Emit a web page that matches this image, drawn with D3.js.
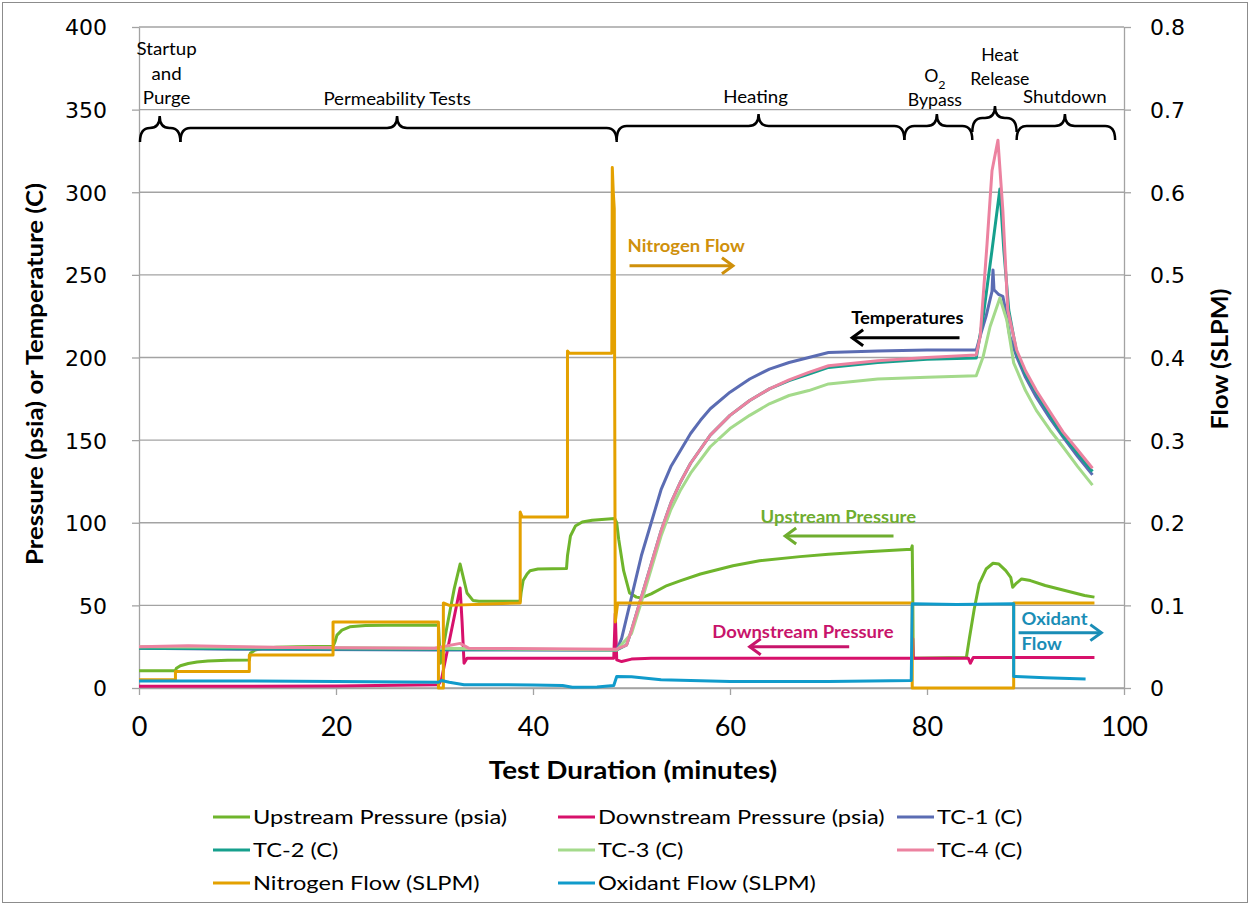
<!DOCTYPE html>
<html>
<head>
<meta charset="utf-8">
<script src="https://cdn.jsdelivr.net/npm/d3@7"></script>
<style>
  body { margin: 0; background: #fff; }
  svg { display: block; }
</style>
</head>
<body>
<svg id="chart"></svg>
<script>
// Series values: [minutes, value]
const upstreamPressure = [
    [0, 10.5], [3.7, 10.5], [3.8, 12], [4.2, 13.5], [5, 14.8], [5.9, 15.7], [7, 16.3], [9, 16.8], [11.2, 17],
    [11.3, 21], [11.8, 23], [12.6, 24], [14, 24.7], [16, 25], [19.7, 25.2], [19.9, 28], [20.1, 32], [20.6, 35],
    [21.4, 37], [23, 37.8], [25, 38], [30.4, 38.2], [30.6, 15], [31.2, 35], [32, 60], [32.6, 75], [33, 65],
    [33.3, 57.5], [33.9, 53], [34.5, 52.5], [38.7, 52.5], [38.8, 58], [39, 65], [39.4, 69], [39.7, 71], [40.5, 72],
    [43.4, 72.3], [43.5, 80], [43.8, 92], [44.3, 98], [45, 100.5], [46, 101.5], [48.3, 102.5], [48.5, 100],
    [48.7, 90], [49.2, 71], [49.8, 57.5], [50.5, 55], [51, 54.5], [52, 57], [53.6, 62], [55, 65], [57, 69],
    [60.3, 74], [63, 77], [67.1, 79.5], [70, 81], [73.9, 82.5], [78.4, 84], [78.5, 86], [78.55, 60], [78.6, 18],
    [84, 18.5], [84.3, 30], [84.8, 48], [85.3, 63], [86, 72], [86.7, 75.5], [87.3, 75], [88, 71], [88.5, 67],
    [88.7, 61], [89, 63], [89.6, 66], [90.5, 65], [92, 62], [94, 59], [96, 56], [97, 55]
];
const downstreamPressure = [
    [0, 1], [20, 1.2], [30.4, 2], [30.7, 5], [32.6, 60.5], [32.8, 40], [33, 15], [33.3, 18], [40, 18],
    [48.2, 18], [48.35, 45], [48.5, 17], [49, 16], [50, 17.5], [52, 18], [78.5, 18], [78.55, 30], [78.6, 18],
    [84.2, 18], [84.4, 15], [84.7, 18.5], [97, 18.5]
];
const tc1 = [
    [0, 24], [10, 23.5], [30, 23], [48.5, 23], [49, 30], [50, 55], [51, 80], [52, 100], [53, 120], [54, 134],
    [55, 144], [56, 154], [57, 162], [58, 169], [60, 179], [62, 187], [64, 193], [66, 197], [68, 200], [70, 203],
    [75, 204], [80, 204.5], [85, 204.5], [85.5, 215], [86, 225], [86.6, 240], [86.7, 253], [86.8, 241],
    [87.3, 238], [87.7, 237], [88, 228], [88.4, 213], [89.1, 200.5], [90, 188], [91.1, 176], [92.5, 163],
    [93.8, 152], [95.3, 140], [96.8, 129]
];
const tc2 = [
    [0, 24], [30, 23.5], [48.5, 23], [49.5, 26], [50, 35], [51, 55], [52, 75], [53, 95], [54, 112], [55, 125],
    [56, 136], [58, 153], [60, 165], [62, 174], [64, 181], [66, 186], [68, 190], [70, 194], [75, 197], [80, 199],
    [85, 199.7], [85.7, 224.7], [86.6, 265], [87.4, 302], [87.8, 265], [88.3, 228.7], [89.1, 203], [90, 190],
    [91.1, 179], [92.5, 165], [93.8, 153], [95.3, 142], [96.8, 131]
];
const tc3 = [
    [0, 25], [30, 24], [48.5, 23], [50, 33], [51, 52], [52, 72], [53, 92], [54, 108], [55, 120], [56, 130],
    [58, 146], [60, 157], [62, 165], [64, 172], [66, 177], [68, 180], [70, 184], [75, 187], [80, 188], [85, 189],
    [85.7, 200.5], [86.4, 218.6], [87.4, 236], [88.1, 222.7], [88.8, 196.7], [90, 180], [91.1, 168],
    [92.5, 156], [93.8, 146], [95.3, 134], [96.8, 122.8]
];
const tc4 = [
    [0, 25], [5, 25.5], [15, 24.5], [30, 24], [32.6, 27], [33.5, 24], [48.5, 23.5], [49.5, 26], [50, 35],
    [51, 55], [52, 75], [53, 95], [54, 112], [55, 125], [56, 136], [58, 153], [60, 165], [62, 174], [64, 181],
    [66, 186.5], [68, 191], [70, 195], [75, 198], [80, 200], [85, 201.5], [85.4, 212.6], [86.1, 269],
    [86.6, 313], [87.2, 331.5], [87.7, 289], [88.2, 228.7], [89.1, 204.5], [90, 192], [91.1, 180], [92.5, 167],
    [93.8, 155], [95.3, 144], [96.8, 133]
];
const nitrogenFlow = [
    [0, 0.01], [3.7, 0.01], [3.7, 0.02], [11.2, 0.02], [11.2, 0.04], [19.7, 0.04], [19.7, 0.08], [30.4, 0.08],
    [30.4, 0], [30.9, 0], [30.9, 0.103], [31.5, 0.1], [38.7, 0.103], [38.7, 0.213], [38.9, 0.207], [43.5, 0.207],
    [43.5, 0.408], [43.7, 0.405], [48.0, 0.405], [48.05, 0.63], [48.15, 0.6], [48.25, 0.58], [48.35, 0.08],
    [48.6, 0.103], [78.5, 0.103], [78.5, 0], [88.8, 0], [88.8, 0.103], [97, 0.103]
];
const oxidantFlow = [
    [0, 0.0085], [10, 0.0085], [20, 0.008], [30.4, 0.007], [30.7, 0.009], [31.5, 0.007], [33, 0.004],
    [36, 0.004], [40, 0.0035], [43, 0.003], [44, 0.001], [46.5, 0.0012], [48.2, 0.003], [48.5, 0.014],
    [50, 0.0135], [53, 0.01], [60, 0.008], [70, 0.008], [78.4, 0.009], [78.5, 0.102], [83, 0.101],
    [88.8, 0.102], [88.8, 0.014], [92, 0.0125], [96.1, 0.011]
];

const seriesNames = ["Upstream Pressure (psia)", "Downstream Pressure (psia)", "TC-1 (C)", "TC-2 (C)", "TC-3 (C)",
    "TC-4 (C)", "Nitrogen Flow (SLPM)", "Oxidant Flow (SLPM)"];
const seriesColours = ["#6fb52c", "#d7116b", "#5b6cb3", "#16a08d", "#a4da8b", "#ec82a0", "#e4a100", "#109bcb"];

// Tick values
const xTicks = [0, 20, 40, 60, 80, 100];
const leftTicks = [0, 50, 100, 150, 200, 250, 300, 350, 400];
const rightTicks = [0, 0.1, 0.2, 0.3, 0.4, 0.5, 0.6, 0.7, 0.8];

// Phases along the top, in minutes
const phases = [
    { label: ["Startup", "and", "Purge"], start: 0.1, mid: 2.1, end: 4.2, labelX: 2.8, lift: 0, base: 104, sx: 1.1 },
    { label: ["Permeability Tests"], start: 4.2, mid: 26.2, end: 48.5, labelX: 26.2, lift: 0, base: 105, sx: 1.1 },
    { label: ["Heating"], start: 48.5, mid: 62.9, end: 77.7, labelX: 62.6, lift: 2, base: 103, sx: 1.1 },
    { label: ["O2", "Bypass"], start: 77.7, mid: 81.0, end: 84.6, labelX: 80.8, lift: 2, base: 106, sx: 1.04 },
    { label: ["Heat", "Release"], start: 84.6, mid: 86.9, end: 89.1, labelX: 87.4, lift: 10, base: 85, sx: 1.04 },
    { label: ["Shutdown"], start: 89.1, mid: 94.0, end: 99.1, labelX: 94.0, lift: 2, base: 103, sx: 1.1 }
];

const width = 1250;
const height = 905;
const margin = { top: 27, right: 126, bottom: 217, left: 139 };
const plotW = width - margin.left - margin.right;
const plotH = height - margin.top - margin.bottom;

const svg = d3.select("#chart")
    .attr("width", width)
    .attr("height", height)
    .style("font-family", "Lato, 'Open Sans', sans-serif");

svg.append("rect")
    .attr("x", 2.5).attr("y", 2.5)
    .attr("width", width - 5).attr("height", height - 5)
    .attr("fill", "#fff")
    .attr("stroke", "#8c8c8c")
    .attr("stroke-width", 1);

// The reference text is wider than Lato, so stretch it along its baseline
function addText(parent, x, y, str, sx, rot) {
    const tf = `translate(${x},${y})` + (rot ? ` rotate(${rot})` : "") + ` scale(${sx},1)`;
    return parent.append("text").attr("transform", tf).text(str);
}

const g = svg.append("g")
    .attr("transform", `translate(${margin.left}, ${margin.top})`);

const xScale = d3.scaleLinear().domain([0, 100]).range([0, plotW]);
const yLeft = d3.scaleLinear().domain([0, 400]).range([plotH, 0]);
const yRight = d3.scaleLinear().domain([0, 0.8]).range([plotH, 0]);

// Horizontal grid
g.selectAll("line.grid")
    .data(leftTicks)
    .join("line")
    .attr("class", "grid")
    .attr("x1", 0)
    .attr("x2", plotW)
    .attr("y1", d => yLeft(d))
    .attr("y2", d => yLeft(d))
    .attr("stroke", "#a3a3a3")
    .attr("stroke-width", 1.3);

// Axes
const leftAxis = g.append("g")
    .call(d3.axisLeft(yLeft).tickValues(leftTicks).tickSize(7).tickSizeOuter(0).tickPadding(25));
leftAxis.selectAll("text").style("font-family", "'DejaVu Sans', Verdana, sans-serif").style("font-size", "22px").attr("dy", "0.36em");

const rightAxis = g.append("g")
    .attr("transform", `translate(${plotW}, 0)`)
    .call(d3.axisRight(yRight).tickValues(rightTicks).tickFormat(d => d === 0 ? "0" : d3.format(".1f")(d)).tickSize(7).tickSizeOuter(0).tickPadding(19));
rightAxis.selectAll("text").style("font-family", "'DejaVu Sans', Verdana, sans-serif").style("font-size", "22px").attr("dy", "0.36em");

const xAxis = g.append("g")
    .attr("transform", `translate(0, ${plotH})`)
    .call(d3.axisBottom(xScale).tickValues(xTicks).tickSize(7).tickSizeOuter(0).tickPadding(22));
xAxis.selectAll("text").style("font-family", "Lato, sans-serif").style("font-size", "27px");

[leftAxis, rightAxis, xAxis].forEach(a => {
    a.selectAll("path, line").attr("stroke", "#a3a3a3").attr("stroke-width", 1.3);
    a.selectAll("text").attr("fill", "#000");
});

// Axis titles
addText(svg, 43, 374, "Pressure (psia) or Temperature (C)", 1.17, -90)
    .attr("text-anchor", "middle")
    .style("font-size", "22px")
    .style("font-weight", "bold");

addText(svg, 1228, 359, "Flow (SLPM)", 1.15, -90)
    .attr("text-anchor", "middle")
    .style("font-size", "22px")
    .style("font-weight", "bold");

addText(svg, 633, 779, "Test Duration (minutes)", 1.16, 0)
    .attr("text-anchor", "middle")
    .style("font-size", "24px")
    .style("font-weight", "bold");

// Lines
const leftLine = d3.line().x(d => xScale(d[0])).y(d => yLeft(d[1]));
const rightLine = d3.line().x(d => xScale(d[0])).y(d => yRight(d[1]));

const allSeries = [
    { data: upstreamPressure, line: leftLine },
    { data: downstreamPressure, line: leftLine },
    { data: tc1, line: leftLine },
    { data: tc2, line: leftLine },
    { data: tc3, line: leftLine },
    { data: tc4, line: leftLine },
    { data: nitrogenFlow, line: rightLine },
    { data: oxidantFlow, line: rightLine }
];

allSeries.forEach((s, i) => {
    g.append("path")
        .datum(s.data)
        .attr("d", s.line)
        .attr("fill", "none")
        .attr("stroke", seriesColours[i])
        .attr("stroke-width", 3)
        .attr("stroke-linejoin", "round");
});

// Phase braces
const braceY = { tip: 116, bar: 128, end: 142 };
phases.forEach(p => {
    const x1 = xScale(p.start), x2 = xScale(p.end), xm = xScale(p.mid);
    const yt = braceY.tip - margin.top - p.lift;
    const yb = braceY.bar - margin.top - p.lift;
    const ye = braceY.end - margin.top - p.lift;
    const r = Math.min(10, (xm - x1) / 2, (x2 - xm) / 2);
    const path = `M${x1},${ye} Q${x1},${yb} ${x1 + r},${yb} L${xm - r},${yb} Q${xm},${yb} ${xm},${yt}` +
        ` Q${xm},${yb} ${xm + r},${yb} L${x2 - r},${yb} Q${x2},${yb} ${x2},${ye}`;
    g.append("path")
        .attr("d", path)
        .attr("fill", "none")
        .attr("stroke", "#000")
        .attr("stroke-width", 2.5);

    const lines = p.label;
    lines.forEach((t, j) => {
        const y = p.base - margin.top - (lines.length - 1 - j) * 24.5;
        if (t === "O2") {
            const txt = addText(g, xScale(p.labelX), y, "", p.sx, 0)
                .attr("text-anchor", "middle")
                .style("font-size", "17px");
            txt.append("tspan").text("O");
            txt.append("tspan").attr("baseline-shift", "sub").style("font-size", "12px").text("2");
        } else {
            addText(g, xScale(p.labelX), y, t, p.sx, 0)
                .attr("text-anchor", "middle")
                .style("font-size", "17px");
        }
    });
});

// Inline callouts with arrows
function arrow(x1, y, x2, colour) {
    const dir = x2 > x1 ? 1 : -1;
    g.append("path")
        .attr("d", `M${x1},${y} L${x2},${y}`)
        .attr("stroke", colour)
        .attr("stroke-width", 3)
        .attr("fill", "none");
    g.append("path")
        .attr("d", `M${x2 - dir * 11},${y - 8} L${x2},${y} L${x2 - dir * 11},${y + 8}`)
        .attr("stroke", colour)
        .attr("stroke-width", 3)
        .attr("fill", "none");
}

const callouts = [
    { text: ["Nitrogen Flow"], colour: "#cf900b", x: 49.6, y: 264, from: 49.8, to: 60.3, ay: 255.5 },
    { text: ["Temperatures"], colour: "#000", x: 72.3, y: 220.5, from: 83.3, to: 72.4, ay: 212 },
    { text: ["Upstream Pressure"], colour: "#6fad2f", x: 63.1, y: 100, from: 76.6, to: 65.6, ay: 92 },
    { text: ["Downstream Pressure"], colour: "#c8146b", x: 58.2, y: 30, from: 72.1, to: 62.0, ay: 25 },
    { text: ["Oxidant", "Flow"], colour: "#1a8db6", x: 89.6, y: 38, from: 89.3, to: 97.7, ay: 33.5 }
];

callouts.forEach(c => {
    c.text.forEach((t, j) => {
        addText(g, xScale(c.x), yLeft(c.y) + j * 25, t, 1.12, 0)
            .attr("fill", c.colour)
            .style("font-size", "16.5px")
            .style("font-weight", "bold");
    });
    arrow(xScale(c.from), yLeft(c.ay), xScale(c.to), c.colour);
});

// Legend
const legendCols = [213, 558, 897];
const legendRows = [817, 850, 883];
seriesNames.forEach((name, i) => {
    const lx = legendCols[i % 3];
    const ly = legendRows[Math.floor(i / 3)];
    svg.append("line")
        .attr("x1", lx).attr("x2", lx + 37)
        .attr("y1", ly).attr("y2", ly)
        .attr("stroke", seriesColours[i])
        .attr("stroke-width", 3);
    addText(svg, lx + 40, ly, name, 1.18, 0)
        .attr("dy", "0.35em")
        .style("font-size", "20px");
});
</script>
</body>
</html>
